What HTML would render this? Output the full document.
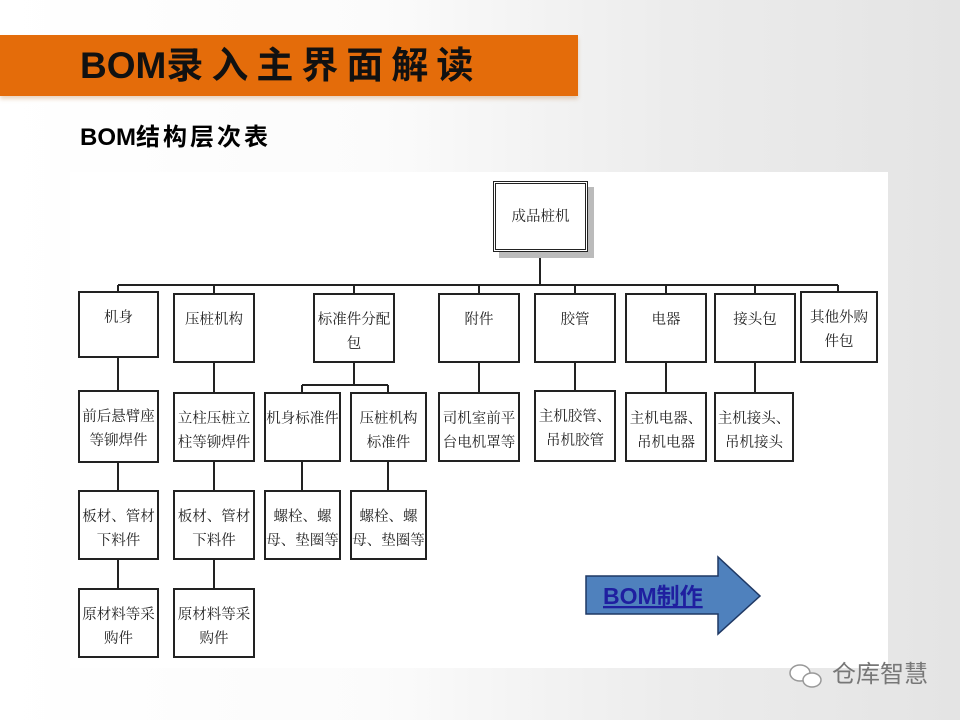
<!DOCTYPE html>
<html><head><meta charset="utf-8">
<style>
html,body{margin:0;padding:0;}
body{width:960px;height:720px;position:relative;overflow:hidden;
background:linear-gradient(90deg,#ffffff 0%,#fbfbfb 40%,#ececec 70%,#e4e4e4 100%);
font-family:"Liberation Sans","Noto Sans CJK SC",sans-serif;}
.bar{position:absolute;left:0;top:35px;width:578px;height:61px;background:#e46c0a;box-shadow:0 3px 4px rgba(200,150,100,.4);}
.title{position:absolute;left:80px;top:40px;font-size:37px;font-weight:bold;color:#111;line-height:52px;white-space:nowrap;}
.title span{letter-spacing:8px;}
.sub{position:absolute;left:80px;top:123px;font-size:24px;color:#000;font-weight:bold;line-height:30px;white-space:nowrap;}
.sub span{letter-spacing:3px;}
.panel{position:absolute;left:70px;top:172px;width:818px;height:496px;background:#fff;}
.b{position:absolute;border:2px solid #222;background:#fff;box-sizing:border-box;text-align:center;white-space:nowrap;
font-family:"Noto Serif CJK SC","Liberation Serif",serif;font-size:14.5px;line-height:24px;color:#222;padding-top:12px;}
.wm{position:absolute;left:832px;top:660px;font-size:24px;color:#777;line-height:30px;}
</style></head><body>
<div class="bar"></div>
<div class="title">BOM<span>录入主界面解读</span></div>
<div class="sub">BOM<span>结构层次表</span></div>
<div class="panel"></div>
<svg style="position:absolute;left:0;top:0" width="960" height="720">
<g stroke="#222" stroke-width="2" fill="none">
<line x1="540" y1="252" x2="540" y2="285"/>
<line x1="118" y1="285" x2="838" y2="285"/>
<line x1="118" y1="285" x2="118" y2="291"/>
<line x1="214" y1="285" x2="214" y2="293"/>
<line x1="354" y1="285" x2="354" y2="293"/>
<line x1="479" y1="285" x2="479" y2="293"/>
<line x1="575" y1="285" x2="575" y2="293"/>
<line x1="666" y1="285" x2="666" y2="293"/>
<line x1="755" y1="285" x2="755" y2="293"/>
<line x1="838" y1="285" x2="838" y2="291"/>
<line x1="118" y1="357" x2="118" y2="390"/>
<line x1="214" y1="362" x2="214" y2="392"/>
<line x1="354" y1="363" x2="354" y2="385"/>
<line x1="302" y1="385" x2="388" y2="385"/>
<line x1="302" y1="385" x2="302" y2="392"/>
<line x1="388" y1="385" x2="388" y2="392"/>
<line x1="479" y1="363" x2="479" y2="392"/>
<line x1="575" y1="363" x2="575" y2="390"/>
<line x1="666" y1="363" x2="666" y2="392"/>
<line x1="755" y1="363" x2="755" y2="392"/>
<line x1="118" y1="462" x2="118" y2="490"/>
<line x1="214" y1="462" x2="214" y2="490"/>
<line x1="302" y1="462" x2="302" y2="490"/>
<line x1="388" y1="462" x2="388" y2="490"/>
<line x1="118" y1="559" x2="118" y2="588"/>
<line x1="214" y1="559" x2="214" y2="588"/>
</g>
<rect x="499" y="187" width="95" height="71" fill="#bbb"/>
<polygon points="586,576 718,576 718,557 760,596 718,634 718,614 586,614" fill="#4f81bd" stroke="#1f3864" stroke-width="1.5"/>
<text x="603" y="604" font-family="Liberation Sans,Noto Sans CJK SC,sans-serif" font-size="23" font-weight="bold" fill="#1f1fa0" text-decoration="underline">BOM制作</text>
<g stroke="#999" stroke-width="1.5" fill="#fff">
<ellipse cx="800" cy="673" rx="10" ry="8"/>
<ellipse cx="812" cy="680" rx="9" ry="7"/>
</g>
</svg>
<div class="b" style="left:493px;top:181px;width:95px;height:71px;border:3px double #222;padding-top:20px;">成品桩机</div>
<div class="b" style="left:78px;top:291px;width:81px;height:67px;">机身</div>
<div class="b" style="left:173px;top:293px;width:82px;height:70px;">压桩机构</div>
<div class="b" style="left:313px;top:293px;width:82px;height:70px;">标准件分配<br>包</div>
<div class="b" style="left:438px;top:293px;width:82px;height:70px;">附件</div>
<div class="b" style="left:534px;top:293px;width:82px;height:70px;">胶管</div>
<div class="b" style="left:625px;top:293px;width:82px;height:70px;">电器</div>
<div class="b" style="left:714px;top:293px;width:82px;height:70px;">接头包</div>
<div class="b" style="left:800px;top:291px;width:78px;height:72px;">其他外购<br>件包</div>
<div class="b" style="left:78px;top:390px;width:81px;height:73px;">前后悬臂座<br>等铆焊件</div>
<div class="b" style="left:173px;top:392px;width:82px;height:70px;">立柱压桩立<br>柱等铆焊件</div>
<div class="b" style="left:264px;top:392px;width:77px;height:70px;">机身标准件</div>
<div class="b" style="left:350px;top:392px;width:77px;height:70px;">压桩机构<br>标准件</div>
<div class="b" style="left:438px;top:392px;width:82px;height:70px;">司机室前平<br>台电机罩等</div>
<div class="b" style="left:534px;top:390px;width:82px;height:72px;">主机胶管、<br>吊机胶管</div>
<div class="b" style="left:625px;top:392px;width:82px;height:70px;">主机电器、<br>吊机电器</div>
<div class="b" style="left:714px;top:392px;width:80px;height:70px;">主机接头、<br>吊机接头</div>
<div class="b" style="left:78px;top:490px;width:81px;height:70px;">板材、管材<br>下料件</div>
<div class="b" style="left:173px;top:490px;width:82px;height:70px;">板材、管材<br>下料件</div>
<div class="b" style="left:264px;top:490px;width:77px;height:70px;">螺栓、螺<br>母、垫圈等</div>
<div class="b" style="left:350px;top:490px;width:77px;height:70px;">螺栓、螺<br>母、垫圈等</div>
<div class="b" style="left:78px;top:588px;width:81px;height:70px;">原材料等采<br>购件</div>
<div class="b" style="left:173px;top:588px;width:82px;height:70px;">原材料等采<br>购件</div>
<div class="wm">仓库智慧</div>
</body></html>
